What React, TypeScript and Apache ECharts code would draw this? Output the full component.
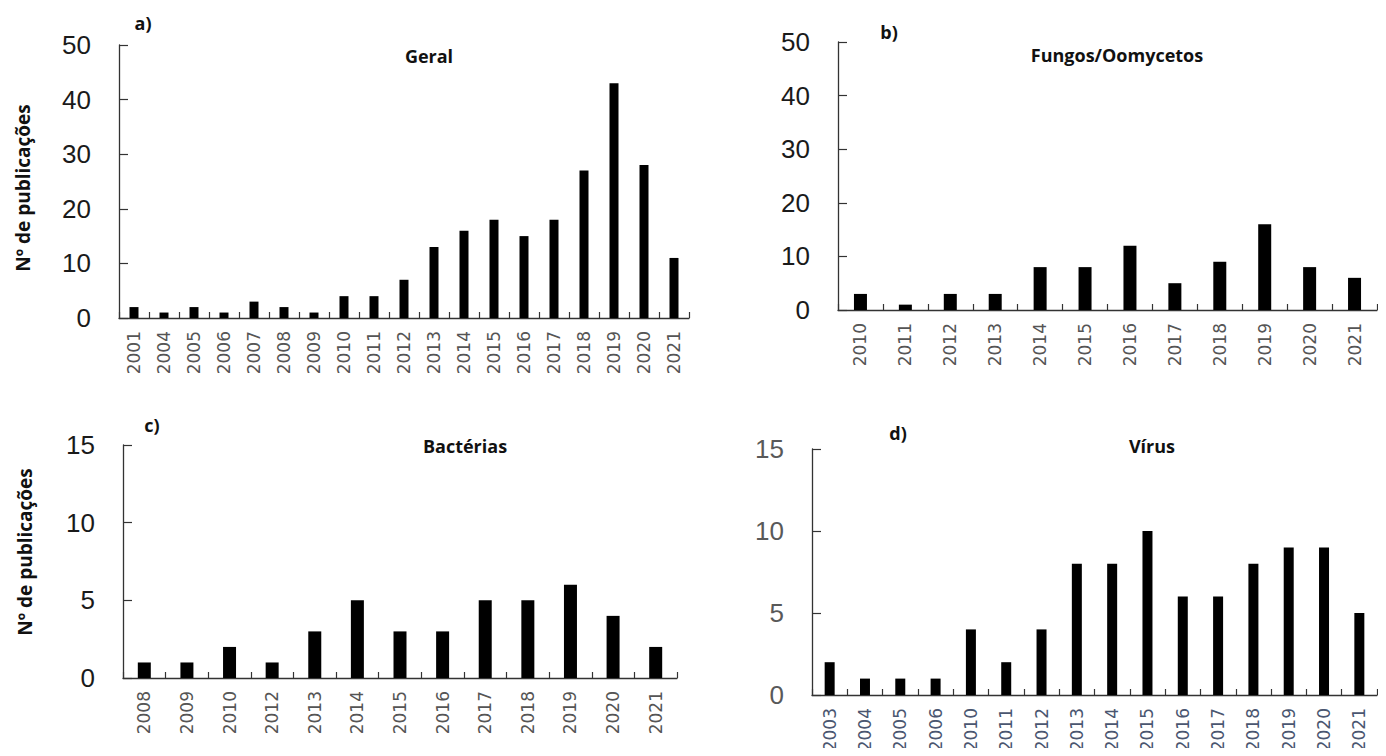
import React, { useEffect, useRef } from "react";
import * as echarts from "echarts";

const yearsA = ["2001","2004","2005","2006","2007","2008","2009","2010","2011","2012","2013","2014","2015","2016","2017","2018","2019","2020","2021"];
const valuesA = [2,1,2,1,3,2,1,4,4,7,13,16,18,15,18,27,43,28,11];

const yearsB = ["2010","2011","2012","2013","2014","2015","2016","2017","2018","2019","2020","2021"];
const valuesB = [3,1,3,3,8,8,12,5,9,16,8,6];

const yearsC = ["2008","2009","2010","2012","2013","2014","2015","2016","2017","2018","2019","2020","2021"];
const valuesC = [1,1,2,1,3,5,3,3,5,5,6,4,2];

const yearsD = ["2003","2004","2005","2006","2010","2011","2012","2013","2014","2015","2016","2017","2018","2019","2020","2021"];
const valuesD = [2,1,1,1,4,2,4,8,8,10,6,6,8,9,9,5];

const panelTitles = ["Geral", "Fungos/Oomycetos", "Bactérias", "Vírus"];
const panelLetters = ["a)", "b)", "c)", "d)"];
const yAxisName = "Nº de publicações";

export default function App() {
  const ref = useRef<HTMLDivElement>(null);
  useEffect(() => {
    if (!ref.current) return;
    const chart = echarts.init(ref.current, null, { renderer: "svg" });

    const panels = [
      { cats: yearsA, vals: valuesA, max: 50, interval: 10, grid: { left: 119, top: 45, width: 570, height: 273 }, barWidth: 9, yColor: "#1a1a1a" },
      { cats: yearsB, vals: valuesB, max: 50, interval: 10, grid: { left: 838, top: 42, width: 539, height: 268 }, barWidth: 13, yColor: "#1a1a1a" },
      { cats: yearsC, vals: valuesC, max: 15, interval: 5, grid: { left: 123, top: 445, width: 554, height: 233 }, barWidth: 13, yColor: "#1a1a1a" },
      { cats: yearsD, vals: valuesD, max: 15, interval: 5, grid: { left: 812, top: 449, width: 565, height: 246 }, barWidth: 10, yColor: "#595959" },
    ];

    const axisLine = { show: true, lineStyle: { color: "#333333", width: 1.3 } };
    const bold = "bold 18px 'Open Sans'";

    const option: any = {
      animation: false,
      backgroundColor: "#ffffff",
      grid: panels.map((p) => ({ ...p.grid, containLabel: false })),
      xAxis: panels.map((p, i) => ({
        type: "category",
        gridIndex: i,
        data: p.cats,
        boundaryGap: true,
        axisLine,
        axisTick: { show: true, inside: true, length: 6, lineStyle: { color: "#333333", width: 1.2 } },
        axisLabel: {
          rotate: 90,
          interval: 0,
          margin: 13,
          fontFamily: "DejaVu Sans",
          fontSize: 17,
          color: i === 3 ? "#4a5670" : "#555555",
        },
        splitLine: { show: false },
      })),
      yAxis: panels.map((p, i) => ({
        type: "value",
        gridIndex: i,
        min: 0,
        max: p.max,
        interval: p.interval,
        axisLine,
        axisTick: { show: true, inside: true, length: 9, lineStyle: { color: "#333333", width: 1.2 } },
        axisLabel: {
          margin: 28,
          fontFamily: "Liberation Sans",
          fontSize: 26,
          color: p.yColor,
        },
        splitLine: { show: false },
      })),
      series: panels.map((p, i) => ({
        type: "bar",
        xAxisIndex: i,
        yAxisIndex: i,
        data: p.vals,
        barWidth: p.barWidth,
        itemStyle: { color: "#000000" },
      })),
      graphic: [
        { type: "text", x: 429, y: 56, style: { text: panelTitles[0], font: bold, fill: "#111", align: "center", verticalAlign: "middle" } },
        { type: "text", x: 1117, y: 55, style: { text: panelTitles[1], font: bold, fill: "#111", align: "center", verticalAlign: "middle" } },
        { type: "text", x: 465, y: 446, style: { text: panelTitles[2], font: bold, fill: "#111", align: "center", verticalAlign: "middle" } },
        { type: "text", x: 1152, y: 446, style: { text: panelTitles[3], font: bold, fill: "#111", align: "center", verticalAlign: "middle" } },
        { type: "text", x: 143, y: 23, style: { text: panelLetters[0], font: bold, fill: "#111", align: "center", verticalAlign: "middle" } },
        { type: "text", x: 889, y: 32, style: { text: panelLetters[1], font: bold, fill: "#111", align: "center", verticalAlign: "middle" } },
        { type: "text", x: 152, y: 425, style: { text: panelLetters[2], font: bold, fill: "#111", align: "center", verticalAlign: "middle" } },
        { type: "text", x: 898, y: 433, style: { text: panelLetters[3], font: bold, fill: "#111", align: "center", verticalAlign: "middle" } },
        { type: "text", x: 23, y: 188, rotation: Math.PI / 2, style: { text: yAxisName, font: "bold 19px 'Open Sans'", fill: "#111", align: "center", verticalAlign: "middle" } },
        { type: "text", x: 25, y: 552, rotation: Math.PI / 2, style: { text: yAxisName, font: "bold 19px 'Open Sans'", fill: "#111", align: "center", verticalAlign: "middle" } },
      ],
    };

    chart.setOption(option);
    return () => chart.dispose();
  }, []);

  return <div ref={ref} style={{ width: 1386, height: 756, margin: -8 }} />;
}
